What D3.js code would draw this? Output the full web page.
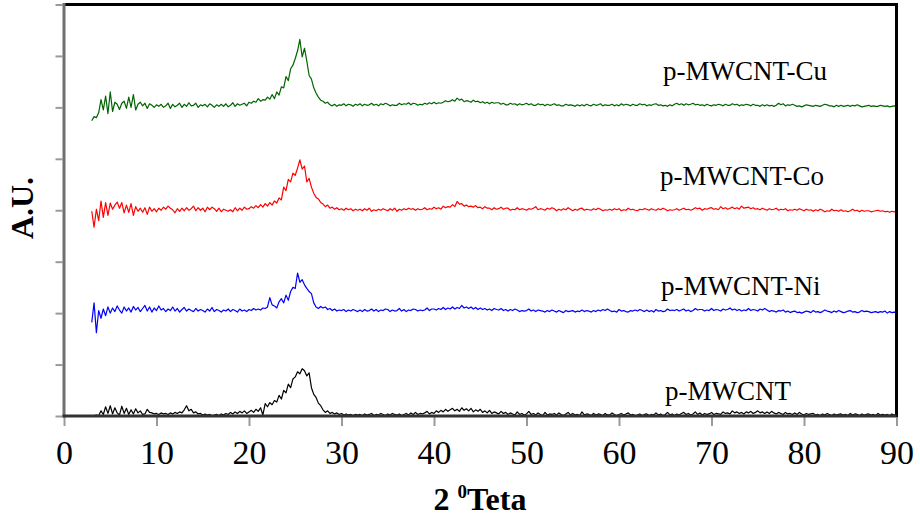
<!DOCTYPE html>
<html><head><meta charset="utf-8">
<script src="https://cdn.jsdelivr.net/npm/d3@7/dist/d3.min.js"></script>
<style>body{margin:0;background:#fff}svg{display:block}</style>
</head><body>
<svg id="c" width="920" height="522"></svg>
<script>
// Each row: [start angle (deg), readings evenly spaced across that degree]
const seriesNames = ["p-MWCNT", "p-MWCNT-Ni", "p-MWCNT-Co", "p-MWCNT-Cu"];
const seriesColors = ["#000000", "#0000ff", "#ff0000", "#006400"];
const seriesOffsets = [0, 2, 4, 6];
const xTicks = [0,10,20,30,40,50,60,70,80,90];
const yTicks = [0,1,2,3,4,5,6,7,8];

const blackRows = [
[3,0.00,0.01,0.02,0.01],[4,0.10,0.03,0.18,0.05],[5,0.20,0.04,0.16,0.06],[6,0.02,0.19,0.05,0.15],
[7,0.03,0.12,0.04,0.14],[8,0.06,0.10,0.03,0.04],[9,0.13,0.07,0.06,0.04],[10,0.05,0.03,0.06,0.04],
[11,0.05,0.03,0.06,0.04],[12,0.07,0.05,0.08,0.06],[13,0.12,0.20,0.10,0.13],[14,0.06,0.08,0.04,0.05],
[15,0.02,0.04,0.02,0.03],[16,0.01,0.02,0.03,0.01],[17,0.04,0.02,0.05,0.03],[18,0.07,0.04,0.08,0.05],
[19,0.09,0.06,0.10,0.05],[20,0.08,0.11,0.07,0.13],[21,0.09,0.16,0.02,0.24],[22,0.18,0.26,0.22,0.30],
[23,0.27,0.40,0.33,0.50],[24,0.45,0.62,0.55,0.72],[25,0.76,0.86,0.82,0.92],[26,0.88,0.78,0.84,0.55],
[27,0.42,0.36,0.25,0.20],[28,0.12,0.07,0.10,0.05],[29,0.07,0.04,0.06,0.03],[30,0.05,0.02,0.04,0.02],
[31,0.03,0.01,0.03,0.02],
[32,0.03,0.01,0.04,0.02],[33,0.03,0.05,0.01,0.03],[34,0.02,0.05,0.03,0.01],[35,0.04,0.02,0.05,0.03],
[36,0.02,0.04,0.01,0.03],[37,0.05,0.02,0.06,0.03],[38,0.07,0.03,0.05,0.04],[39,0.06,0.09,0.04,0.07],
[40,0.05,0.10,0.07,0.11],[41,0.08,0.13,0.09,0.12],[42,0.15,0.10,0.13,0.09],[43,0.16,0.11,0.14,0.10],
[44,0.15,0.08,0.12,0.09],[45,0.13,0.07,0.10,0.06],[46,0.11,0.05,0.08,0.06],[47,0.04,0.09,0.05,0.07],
[48,0.03,0.06,0.04,0.02],[49,0.08,0.03,0.05,0.02],[50,0.04,0.09,0.03,0.05],[51,0.02,0.06,0.03,0.01],
[52,0.07,0.02,0.04,0.03],[53,0.05,0.02,0.06,0.03],[54,0.01,0.04,0.07,0.02],[55,0.05,0.02,0.03,0.01],
[56,0.08,0.02,0.04,0.03],[57,0.01,0.05,0.02,0.04],[58,0.03,0.01,0.05,0.02],[59,0.02,0.06,0.03,0.01],
[60,0.03,0.05,0.02,0.04],[61,0.06,0.02,0.03,0.01],[62,0.02,0.04,0.01,0.03],[63,0.04,0.01,0.03,0.02],
[64,0.06,0.02,0.04,0.01],[65,0.03,0.07,0.02,0.04],[66,0.01,0.04,0.02,0.05],[67,0.07,0.03,0.05,0.02],
[68,0.04,0.08,0.03,0.06],[69,0.02,0.05,0.03,0.04],[70,0.07,0.03,0.05,0.04],[71,0.03,0.08,0.05,0.06],
[72,0.04,0.10,0.06,0.08],[73,0.05,0.07,0.04,0.08],[74,0.06,0.09,0.05,0.07],[75,0.10,0.06,0.08,0.05],
[76,0.08,0.05,0.09,0.06],[77,0.04,0.07,0.05,0.03],[78,0.07,0.04,0.05,0.03],[79,0.06,0.03,0.07,0.04],
[80,0.02,0.05,0.03,0.04],[81,0.05,0.02,0.03,0.01],[82,0.04,0.02,0.05,0.03],[83,0.01,0.04,0.02,0.03],
[84,0.04,0.02,0.03,0.01],[85,0.05,0.02,0.04,0.03],[86,0.01,0.04,0.02,0.03],[87,0.04,0.02,0.03,0.01],
[88,0.05,0.02,0.03,0.02],[89,0.03,0.01,0.04,0.02],[90,0.03]
];

const blueRows = [
[3,-0.18,0.20,-0.38,0.05],[4,-0.10,0.08,-0.05,0.12],[5,0.00,0.10,0.03,0.14],[6,0.06,0.00,0.12,0.04],
[7,0.10,0.02,0.13,0.06],[8,0.11,0.03,0.09,0.15],[9,0.04,0.12,0.02,0.10],[10,0.05,0.14,0.06,0.09],
[11,0.03,0.08,0.05,0.12],[12,0.04,0.09,0.02,0.07],[13,0.11,0.04,0.08,0.05],[14,0.03,0.09,0.04,0.07],
[15,0.05,0.02,0.08,0.04],[16,0.11,0.03,0.07,0.05],[17,0.02,0.06,0.04,0.08],[18,0.03,0.07,0.05,0.02],
[19,0.08,0.04,0.06,0.03],[20,0.07,0.05,0.09,0.06],[21,0.08,0.06,0.10,0.09],[22,0.12,0.30,0.16,0.14],
[23,0.10,0.22,0.28,0.20],[24,0.35,0.25,0.42,0.50],[25,0.48,0.78,0.60,0.65],[26,0.55,0.48,0.42,0.38],
[27,0.20,0.12,0.09,0.13],[28,0.10,0.12,0.07,0.09],[29,0.05,0.08,0.04,0.06],[30,0.05,0.07,0.03,0.06],
[31,0.04,0.07,0.05,0.03],
[32,0.06,0.03,0.07,0.04],[33,0.05,0.08,0.04,0.07],[34,0.03,0.06,0.05,0.08],[35,0.07,0.03,0.06,0.04],
[36,0.05,0.09,0.04,0.07],[37,0.03,0.06,0.05,0.08],[38,0.07,0.04,0.06,0.05],[39,0.06,0.10,0.05,0.08],
[40,0.08,0.06,0.09,0.07],[41,0.11,0.07,0.10,0.08],[42,0.12,0.08,0.11,0.09],[43,0.15,0.10,0.12,0.09],
[44,0.12,0.08,0.11,0.07],[45,0.10,0.07,0.09,0.06],[46,0.08,0.05,0.09,0.07],[47,0.06,0.09,0.05,0.07],
[48,0.04,0.07,0.05,0.08],[49,0.06,0.03,0.05,0.04],[50,0.05,0.08,0.04,0.06],[51,0.03,0.06,0.05,0.04],
[52,0.02,0.05,0.03,0.06],[53,0.04,0.02,0.05,0.03],[54,0.01,0.05,0.03,0.04],[55,0.05,0.02,0.04,0.03],
[56,0.06,0.03,0.05,0.04],[57,0.02,0.05,0.03,0.06],[58,0.04,0.07,0.05,0.08],[59,0.05,0.03,0.04,0.02],
[60,0.07,0.04,0.05,0.03],[61,0.02,0.05,0.04,0.06],[62,0.04,0.07,0.05,0.03],[63,0.06,0.03,0.05,0.02],
[64,0.07,0.04,0.05,0.03],[65,0.04,0.08,0.05,0.06],[66,0.05,0.07,0.04,0.06],[67,0.08,0.04,0.06,0.03],
[68,0.05,0.09,0.06,0.07],[69,0.07,0.04,0.06,0.05],[70,0.09,0.05,0.07,0.06],[71,0.04,0.08,0.06,0.07],
[72,0.10,0.06,0.08,0.05],[73,0.07,0.04,0.06,0.05],[74,0.09,0.05,0.07,0.06],[75,0.04,0.08,0.06,0.09],
[76,0.06,0.03,0.05,0.04],[77,0.02,0.05,0.04,0.06],[78,0.02,0.04,0.01,0.03],[79,0.04,0.01,0.02,0.00],
[80,0.02,0.04,0.03,0.01],[81,0.05,0.02,0.03,0.01],[82,0.03,0.06,0.04,0.03],[83,0.01,0.04,0.02,0.05],
[84,0.03,0.01,0.02,0.04],[85,0.05,0.02,0.03,0.01],[86,0.02,0.05,0.03,0.04],[87,0.03,0.01,0.02,0.03],
[88,0.01,0.03,0.02,0.04],[89,0.00,0.03,0.01,0.02],[90,0.01]
];

const redRows = [
[3,-0.02,-0.33,0.02,-0.20],[4,0.18,-0.14,0.15,-0.10],[5,0.14,0.02,0.10,0.16],[6,0.04,0.15,-0.05,0.10],
[7,-0.04,0.13,-0.10,0.07],[8,-0.02,0.04,-0.04,0.05],[9,-0.08,0.06,-0.02,0.03],[10,-0.03,0.04,0.00,0.06],
[11,0.02,0.08,0.04,0.01],[12,-0.05,0.03,-0.02,0.04],[13,-0.01,0.05,0.00,0.03],[14,0.08,-0.01,0.05,0.00],
[15,0.04,-0.03,0.06,0.01],[16,0.06,0.03,-0.02,0.04],[17,-0.03,0.02,0.00,-0.02],[18,0.01,-0.03,0.05,-0.01],
[19,0.04,0.00,0.06,0.02],[20,0.03,0.07,0.04,0.09],[21,0.05,0.11,0.06,0.13],[22,0.08,0.15,0.10,0.18],
[23,0.14,0.24,0.20,0.45],[24,0.38,0.60,0.55,0.72],[25,0.68,0.82,0.98,0.80],[26,0.86,0.55,0.62,0.45],
[27,0.33,0.25,0.22,0.15],[28,0.12,0.07,0.10,0.04],[29,0.06,0.02,0.05,0.01],[30,0.03,0.00,0.04,0.01],
[31,0.03,-0.01,0.02,0.00],
[32,0.02,-0.01,0.03,0.00],[33,0.04,-0.02,0.01,-0.01],[34,0.02,0.00,0.03,0.01],[35,-0.01,0.03,0.00,0.04],
[36,-0.02,0.02,0.00,0.03],[37,0.01,0.04,0.02,0.03],[38,0.00,0.03,0.01,0.02],[39,0.05,0.01,0.03,0.02],
[40,0.06,0.03,0.05,0.02],[41,0.08,0.05,0.07,0.06],[42,0.11,0.07,0.17,0.12],[43,0.13,0.08,0.10,0.07],
[44,0.08,0.06,0.09,0.05],[45,0.06,0.03,0.07,0.04],[46,0.04,0.01,0.05,0.02],[47,0.03,0.06,0.02,0.04],
[48,0.04,0.00,0.02,0.01],[49,0.05,0.01,0.03,0.02],[50,0.00,0.03,0.02,0.04],[51,0.07,0.01,0.03,0.02],
[52,0.00,0.04,0.02,0.05],[53,0.03,-0.01,0.02,0.00],[54,0.03,0.01,0.05,0.02],[55,-0.01,0.02,0.00,0.03],
[56,0.04,0.00,0.02,0.01],[57,0.00,0.03,0.01,0.04],[58,0.02,-0.01,0.01,0.00],[59,0.02,0.00,0.03,0.01],
[60,0.03,-0.01,0.01,0.00],[61,0.04,0.01,0.02,0.00],[62,-0.01,0.02,0.01,0.03],[63,0.02,0.00,0.03,0.01],
[64,0.00,0.03,0.01,0.04],[65,0.02,-0.01,0.01,0.00],[66,0.01,0.03,0.00,0.02],[67,0.04,0.01,0.02,0.00],
[68,0.02,0.05,0.03,0.04],[69,0.00,0.03,0.02,0.04],[70,0.05,0.02,0.03,0.01],[71,0.07,0.03,0.05,0.02],
[72,0.04,0.06,0.03,0.05],[73,0.02,0.08,0.04,0.05],[74,0.06,0.03,0.05,0.02],[75,0.03,0.01,0.04,0.02],
[76,0.00,0.03,0.01,0.02],[77,0.04,0.00,0.02,0.01],[78,0.03,-0.01,0.01,0.00],[79,0.02,0.00,0.03,0.01],
[80,-0.01,0.02,0.00,0.01],[81,-0.02,0.01,-0.01,0.02],[82,0.00,-0.03,-0.01,-0.02],[83,0.02,-0.01,0.00,-0.02],
[84,0.01,-0.02,-0.01,-0.03],[85,-0.01,0.02,-0.01,0.00],[86,-0.03,0.00,-0.02,-0.01],[87,-0.01,-0.03,-0.02,-0.01],
[88,0.00,-0.02,-0.01,-0.03],[89,-0.02,-0.04,-0.02,-0.03],[90,-0.02]
];

const greenRows = [
[3,-0.26,-0.18,-0.20,-0.10],[4,0.15,-0.05,0.22,-0.12],[5,0.30,-0.08,0.10,0.06],[6,-0.04,0.08,0.12,-0.02],
[7,0.20,0.00,0.25,-0.05],[8,0.06,0.10,0.03,0.08],[9,-0.02,0.07,0.04,0.00],[10,0.05,0.02,0.06,0.00],
[11,0.03,0.08,-0.02,0.06],[12,0.01,0.04,0.08,0.00],[13,0.06,0.02,0.09,0.03],[14,0.04,0.08,0.00,0.05],
[15,0.03,0.06,0.01,0.07],[16,0.04,0.00,0.05,0.02],[17,0.06,0.02,0.07,0.01],[18,0.04,0.09,0.02,0.07],
[19,0.04,0.06,0.08,0.03],[20,0.10,0.08,0.12,0.10],[21,0.17,0.12,0.15,0.14],[22,0.20,0.16,0.25,0.17],
[23,0.30,0.24,0.40,0.38],[24,0.60,0.52,0.75,0.82],[25,0.95,1.10,1.32,0.98],[26,1.15,0.90,0.62,0.55],
[27,0.38,0.28,0.20,0.14],[28,0.12,0.08,0.10,0.05],[29,0.03,0.06,0.02,0.05],[30,0.04,0.07,0.03,0.06],
[31,0.05,0.02,0.06,0.04],
[32,0.07,0.03,0.06,0.04],[33,0.05,0.08,0.04,0.06],[34,0.03,0.07,0.05,0.08],[35,0.06,0.03,0.05,0.04],
[36,0.04,0.08,0.05,0.07],[37,0.06,0.09,0.05,0.08],[38,0.07,0.04,0.06,0.05],[39,0.08,0.06,0.09,0.07],
[40,0.10,0.07,0.09,0.08],[41,0.10,0.13,0.11,0.12],[42,0.15,0.12,0.18,0.14],[43,0.16,0.11,0.13,0.12],
[44,0.10,0.14,0.11,0.12],[45,0.09,0.11,0.08,0.10],[46,0.07,0.10,0.08,0.09],[47,0.09,0.06,0.08,0.05],
[48,0.05,0.08,0.06,0.07],[49,0.04,0.07,0.05,0.06],[50,0.08,0.05,0.07,0.04],[51,0.04,0.07,0.05,0.06],
[52,0.03,0.06,0.04,0.05],[53,0.07,0.04,0.05,0.03],[54,0.03,0.06,0.04,0.05],[55,0.04,0.02,0.05,0.03],
[56,0.05,0.03,0.06,0.04],[57,0.03,0.06,0.04,0.05],[58,0.07,0.03,0.05,0.04],[59,0.04,0.06,0.03,0.05],
[60,0.03,0.07,0.04,0.06],[61,0.05,0.03,0.06,0.04],[62,0.04,0.07,0.05,0.06],[63,0.03,0.05,0.04,0.06],
[64,0.07,0.04,0.05,0.03],[65,0.04,0.02,0.05,0.03],[66,0.06,0.08,0.05,0.07],[67,0.04,0.07,0.05,0.06],
[68,0.08,0.05,0.06,0.04],[69,0.05,0.03,0.06,0.04],[70,0.03,0.05,0.04,0.06],[71,0.05,0.03,0.06,0.04],
[72,0.04,0.07,0.05,0.06],[73,0.03,0.05,0.04,0.06],[74,0.05,0.03,0.06,0.04],[75,0.04,0.02,0.05,0.03],
[76,0.05,0.03,0.04,0.02],[77,0.04,0.08,0.05,0.07],[78,0.03,0.05,0.04,0.06],[79,0.04,0.02,0.03,0.01],
[80,0.03,0.05,0.04,0.03],[81,0.02,0.04,0.03,0.02],[82,0.04,0.06,0.05,0.03],[83,0.03,0.01,0.04,0.02],
[84,0.04,0.02,0.03,0.04],[85,0.02,0.04,0.03,0.05],[86,0.03,0.01,0.02,0.03],[87,0.04,0.02,0.03,0.02],
[88,0.02,0.04,0.03,0.02],[89,0.03,0.01,0.02,0.03],[90,0.02]
];

const seriesRows = [blackRows, blueRows, redRows, greenRows];

// ---------- drawing ----------
const svg = d3.select("#c");
const L = 64, R = 896.5, T = 4.5, B = 416;
const x = d3.scaleLinear().domain([0, 90]).range([L, R]);
const y = d3.scaleLinear().domain([0, 8]).range([B, T]);

function flatten(rows) {
  const pts = [];
  rows.forEach(r => {
    const n = r.length - 1;
    for (let i = 0; i < n; i++) pts.push([r[0] + i / n, r[i + 1]]);
  });
  return pts;
}

// ticks
const yAxis = d3.axisLeft(y).tickValues(yTicks).tickSize(7).tickFormat("");
svg.append("g").attr("transform", `translate(${L - 1.5},0)`).call(yAxis)
  .call(g => { g.select(".domain").remove(); g.selectAll("line").attr("stroke", "#9a9a9a").attr("stroke-width", 2); });

const xAxis = d3.axisBottom(x).tickValues(xTicks).tickSize(9).tickPadding(14).tickFormat(d3.format("d"));
svg.append("g").attr("transform", `translate(0,${B + 1})`).call(xAxis)
  .call(g => {
    g.select(".domain").remove();
    g.selectAll("line").attr("stroke", "#9a9a9a").attr("stroke-width", 2);
    g.selectAll("text").attr("fill", "#000").attr("font-family", "'Liberation Serif','Times New Roman',serif").attr("font-size", 34);
  });

// series
const line = d3.line().x(d => x(d[0])).y(d => d[1]);
seriesRows.forEach((rows, k) => {
  const pts = flatten(rows).map(p => [p[0], y(p[1] + seriesOffsets[k])]);
  svg.append("path").attr("d", line(pts)).attr("fill", "none")
    .attr("stroke", seriesColors[k]).attr("stroke-width", 1.2).attr("stroke-linejoin", "round");
});

// frame
svg.append("line").attr("x1", L).attr("x2", R + 1.5).attr("y1", T).attr("y2", T).attr("stroke", "#000").attr("stroke-width", 3);
svg.append("line").attr("x1", R).attr("x2", R).attr("y1", T - 1.5).attr("y2", B + 1).attr("stroke", "#000").attr("stroke-width", 3);
svg.append("line").attr("x1", L).attr("x2", L).attr("y1", T - 1.5).attr("y2", B + 1.5).attr("stroke", "#707070").attr("stroke-width", 3);
svg.append("line").attr("x1", L - 1.5).attr("x2", R).attr("y1", B).attr("y2", B).attr("stroke", "#333").attr("stroke-width", 3);

// series labels
const labelPos = [[665, 400], [661, 295], [660, 185], [663, 80]];
seriesNames.forEach((nm, k) => {
  svg.append("text").attr("x", labelPos[k][0]).attr("y", labelPos[k][1])
    .attr("font-family", "'Liberation Serif','Times New Roman',serif").attr("font-size", 27)
    .attr("fill", "#000").text(nm);
});

// axis titles
const xt = svg.append("text").attr("x", 480).attr("y", 510).attr("text-anchor", "middle")
  .attr("font-family", "'Liberation Serif','Times New Roman',serif").attr("font-weight", "bold").attr("font-size", 32);
xt.append("tspan").text("2 ");
xt.append("tspan").attr("font-size", 19).attr("dy", -12).text("0");
xt.append("tspan").attr("dy", 12).text("Teta");

svg.append("text").attr("transform", "translate(33,208) rotate(-90)").attr("text-anchor", "middle")
  .attr("font-family", "'Liberation Serif','Times New Roman',serif").attr("font-weight", "bold").attr("font-size", 32)
  .text("A.U.");
</script>
</body></html>
